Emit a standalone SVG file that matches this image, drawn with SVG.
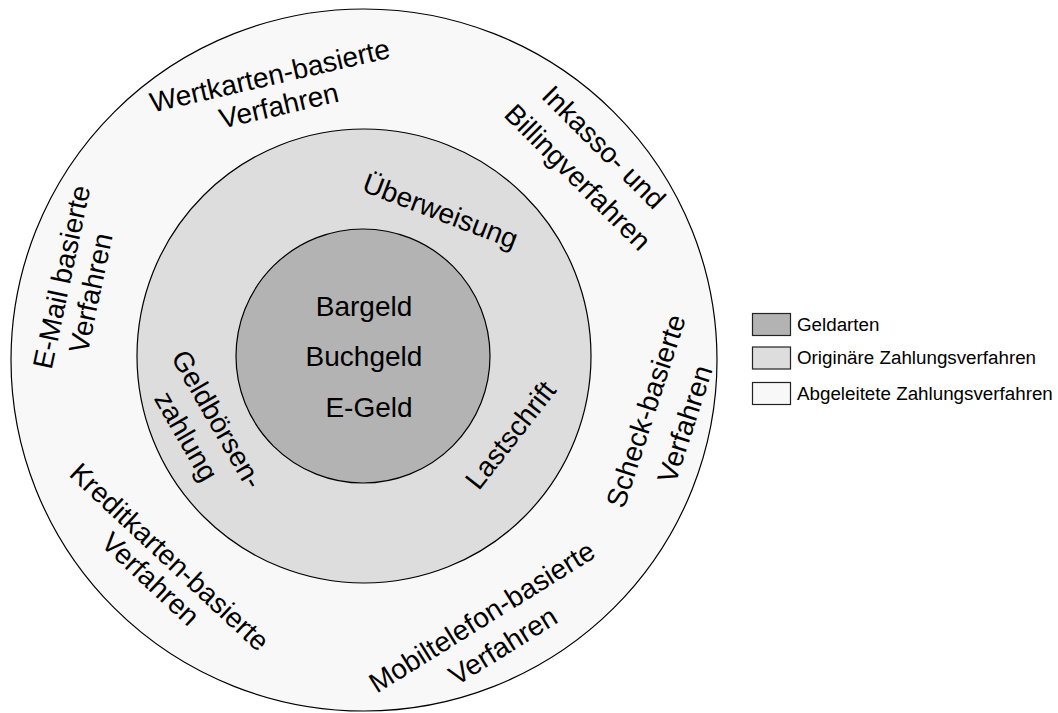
<svg xmlns="http://www.w3.org/2000/svg" width="1058" height="713" viewBox="0 0 1058 713">
<style>
.ring{stroke:#000;stroke-width:1.2}
.outer{fill:#f8f8f8}
.middle{fill:#dddddd}
.inner{fill:#b3b3b3}
.t{font-family:"Liberation Sans",Arial,sans-serif;font-size:28px;fill:#000;text-anchor:middle}
.lg{font-family:"Liberation Sans",Arial,sans-serif;font-size:18.8px;fill:#000}
.box{stroke:#222;stroke-width:1.2}
</style>
<rect width="1058" height="713" fill="#fff"/>
<g id="outer-ring">
<ellipse class="ring outer" cx="364" cy="360" rx="353" ry="351"/>
<text class="t" transform="translate(272,85) rotate(-13)">Wertkarten-basierte</text>
<text class="t" transform="translate(281,115) rotate(-13)">Verfahren</text>
<text class="t" transform="translate(597,154) rotate(45)">Inkasso- und</text>
<text class="t" transform="translate(571,184) rotate(45)">Billingverfahren</text>
<text class="t" transform="translate(71,279) rotate(-78)">E-Mail basierte</text>
<text class="t" transform="translate(100,295) rotate(-78)">Verfahren</text>
<text class="t" transform="translate(655,414) rotate(-72)">Scheck-basierte</text>
<text class="t" transform="translate(694,427) rotate(-72)">Verfahren</text>
<text class="t" transform="translate(163,564) rotate(43)">Kreditkarten-basierte</text>
<text class="t" transform="translate(144,586) rotate(43)">Verfahren</text>
<text class="t" transform="translate(487,625) rotate(-32)">Mobiltelefon-basierte</text>
<text class="t" transform="translate(508,654) rotate(-32)">Verfahren</text>
</g>
<g id="middle-ring">
<circle class="ring middle" cx="364" cy="356" r="227"/>
<text class="t" transform="translate(437,220) rotate(21)">Überweisung</text>
<text class="t" transform="translate(209,424) rotate(60)">Geldbörsen-</text>
<text class="t" transform="translate(178,441) rotate(60)">zahlung</text>
<text class="t" transform="translate(518,441) rotate(-52)">Lastschrift</text>
</g>
<g id="inner-circle">
<circle class="ring inner" cx="363" cy="356" r="127"/>
<text class="t" x="364" y="316">Bargeld</text>
<text class="t" x="364" y="366">Buchgeld</text>
<text class="t" x="369" y="417">E-Geld</text>
</g>
<g id="legend">
<rect class="box inner" x="752.5" y="313.5" width="38" height="22"/>
<text class="lg" x="797" y="331">Geldarten</text>
<rect class="box middle" x="752.5" y="347" width="38" height="22"/>
<text class="lg" x="797" y="364">Originäre Zahlungsverfahren</text>
<rect class="box outer" x="752.5" y="382.5" width="38" height="22"/>
<text class="lg" x="797" y="400">Abgeleitete Zahlungsverfahren</text>
</g>
<g id="connectors"></g>
</svg>
